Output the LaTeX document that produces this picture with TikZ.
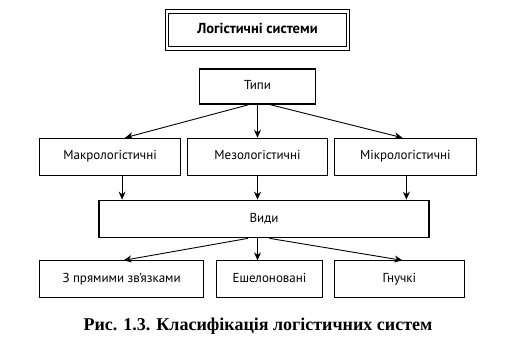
\documentclass[tikz,border=0pt]{standalone}
\usepackage{fontspec}
\setmainfont{Liberation Serif}
\newfontfamily\boxfont{PT Sans}
\usetikzlibrary{arrows.meta, positioning, calc}

\begin{document}
\begin{tikzpicture}[
    node distance=20pt and 6pt,
    box/.style={rectangle, draw, line width=0.9pt, text centered, text height=9pt, text depth=2.5pt, minimum height=37pt, inner sep=2pt, font=\boxfont\fontsize{13}{15}\selectfont},
    mainbox/.style={box, line width=1.7pt},
    titlebox/.style={box, double, line width=1.1pt, double distance=2.2pt, minimum height=37pt, font=\boxfont\bfseries\fontsize{14.5}{16}\selectfont},
    arrow/.style={->, >={Stealth[length=8pt, width=7pt]}, line width=0.9pt},
    caption/.style={font=\bfseries\fontsize{18}{20}\selectfont},
  ]

  \useasboundingbox (0,0) rectangle (532pt,-353pt);

  \node[titlebox, minimum width=181pt] (title) at (257.5pt,-30pt) {Логістичні системи};
  \node[mainbox, minimum width=116pt, minimum height=35pt, below=19pt of title] (tipy) {Типи};

  \node[box, minimum width=140pt, below=33pt of tipy] (mezo) {Мезологістичні};
  \node[box, minimum width=141pt, left=6pt of mezo] (makro) {Макрологістичні};
  \node[box, minimum width=142pt, right=6pt of mezo] (mikro) {Мікрологістичні};

  \draw[arrow] ([xshift=-9pt]tipy.south) -- ([xshift=15pt]makro.north);
  \draw[arrow] (tipy.south) -- (mezo.north);
  \draw[arrow] ([xshift=13pt]tipy.south) -- ([xshift=-3pt]mikro.north);

  \node[mainbox, minimum width=330pt, below=24pt of mezo, xshift=6.5pt] (vydy) {Види};

  \draw[arrow] ([xshift=12pt]makro.south) -- ([xshift=12pt]makro.south |- vydy.north);
  \draw[arrow] (mezo.south) -- (mezo.south |- vydy.north);
  \draw[arrow] ([xshift=1pt]mikro.south) -- ([xshift=1pt]mikro.south |- vydy.north);

  \node[box, minimum width=106pt, below=22pt of vydy, xshift=5.5pt] (eshel) {Ешелоновані};
  \node[box, minimum width=164pt, left=12pt of eshel] (priami) {З прямими зв’язками};
  \node[box, minimum width=130pt, right=11pt of eshel] (hnuchki) {Гнучкі};

  \draw[arrow] ([xshift=-16pt]vydy.south) -- ([xshift=2pt]priami.north);
  \draw[arrow] ([xshift=-6.5pt]vydy.south) -- ([xshift=-12pt]eshel.north);
  \draw[arrow] ([xshift=5.5pt]vydy.south) -- ([xshift=3pt]hnuchki.north);

  \node[caption] (cap) at (258pt,-326pt) {Рис. 1.3. Класифікація логістичних систем};

\end{tikzpicture}
\end{document}
